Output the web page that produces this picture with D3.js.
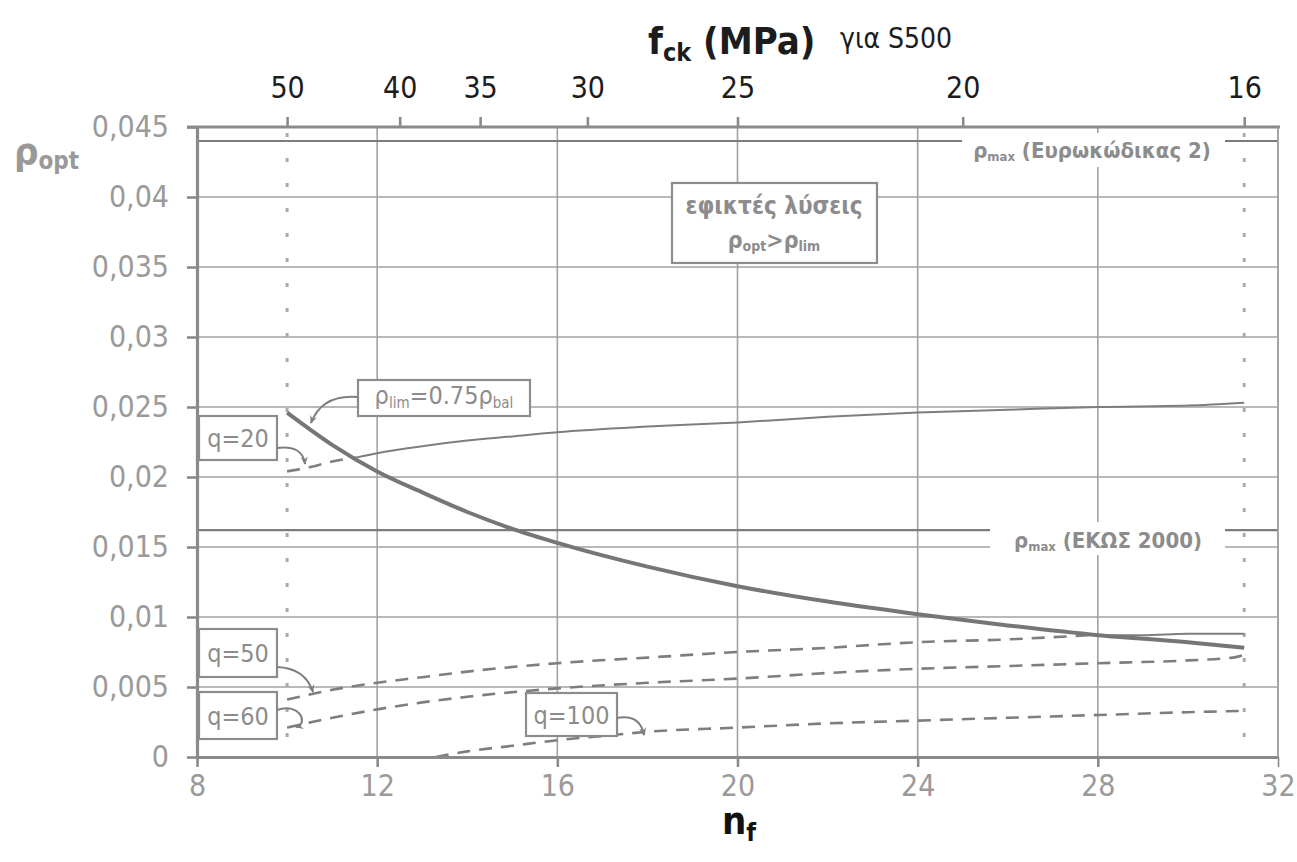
<!DOCTYPE html>
<html>
<head>
<meta charset="utf-8">
<script src="https://cdn.jsdelivr.net/npm/d3@7"></script>
<style>
  body { margin: 0; background: #fff; }
  svg { display: block; }
  text { font-family: "DejaVu Sans Condensed", "DejaVu Sans", Verdana, sans-serif; font-stretch: condensed; }
</style>
</head>
<body>
<svg id="chart" width="1297" height="862"></svg>
<script>
// ---- axes ----
const nfTicks = [8, 12, 16, 20, 24, 28, 32];
const rhoTicks = [0, 0.005, 0.01, 0.015, 0.02, 0.025, 0.03, 0.035, 0.04, 0.045];
const rhoTickLabels = ["0", "0,005", "0,01", "0,015", "0,02", "0,025", "0,03", "0,035", "0,04", "0,045"];
const fckTicks = [50, 40, 35, 30, 25, 20, 16];   // MPa, top axis
const fykS500 = 500;                               // n_f = fyk / fck

// ---- code limits ----
const rhoMaxEC2 = 0.044;
const rhoMaxEKOS = 0.0162;
const nfBounds = [10, 31.25];                      // fck = 50 ... 16 MPa

// ---- rho_lim = 0.75 rho_bal ----
const nfLim  = [10, 11, 12, 13, 14, 15, 16, 18, 20, 22, 24, 26, 28, 30, 31.25];
const rhoLim = [0.0246, 0.0223, 0.0204, 0.0189, 0.0175, 0.0163, 0.0153, 0.0136, 0.0122, 0.0111, 0.0102, 0.0094, 0.0087, 0.0082, 0.0078];

// ---- rho_opt for each q ----
const nfQ20  = [10, 10.5, 11, 11.55, 12, 13, 14, 15, 16, 18, 20, 22, 24, 26, 28, 30, 31.25];
const rhoQ20 = [0.0204, 0.0207, 0.0211, 0.0214, 0.0217, 0.0222, 0.0226, 0.0229, 0.0232, 0.0236, 0.0239, 0.0243, 0.0246, 0.0248, 0.0250, 0.0251, 0.0253];
const q20Feasible = 11.55;

const nfQ50  = [10, 11, 12, 13, 14, 16, 18, 20, 22, 24, 26, 27.8, 29, 30, 31.25];
const rhoQ50 = [0.0041, 0.0048, 0.0053, 0.0057, 0.0061, 0.0067, 0.0071, 0.0075, 0.0078, 0.0082, 0.0084, 0.0087, 0.0087, 0.0088, 0.0088];
const q50Feasible = 27.8;

const nfQ60  = [10, 11, 12, 13, 14, 16, 18, 20, 22, 24, 26, 28, 30, 31, 31.25];
const rhoQ60 = [0.0021, 0.0028, 0.0034, 0.0039, 0.0043, 0.0049, 0.0053, 0.0056, 0.0060, 0.0063, 0.0065, 0.0067, 0.0069, 0.0071, 0.0073];

const nfQ100  = [13.3, 14, 15, 16, 17, 18, 20, 22, 24, 26, 28, 30, 31.25];
const rhoQ100 = [0.0, 0.0004, 0.0008, 0.0012, 0.0015, 0.0018, 0.0021, 0.0024, 0.0026, 0.0028, 0.0030, 0.0032, 0.0033];

// ---------------------------------------------------------------
const svg = d3.select("#chart");
const x = d3.scaleLinear().domain([8, 32]).range([197, 1278]);
const y = d3.scaleLinear().domain([0, 0.045]).range([757, 127]);

const COL = { axis: "#8a8a8a", grid: "#a2a2a2", text: "#9a9a9a", label: "#8c8c8c", dark: "#1c1c1c", curve: "#7e7e7e" };

svg.append("rect").attr("width", 1297).attr("height", 862).attr("fill", "#fff");

svg.append("defs").append("marker")
  .attr("id", "arrow").attr("viewBox", "0 0 10 10").attr("refX", 8).attr("refY", 5)
  .attr("markerWidth", 9).attr("markerHeight", 9).attr("markerUnits", "userSpaceOnUse")
  .attr("orient", "auto")
  .append("path").attr("d", "M0,1 L9,5 L0,9 L3,5 Z").attr("fill", COL.curve);

// grid
const grid = svg.append("g");
grid.selectAll("line.h").data(rhoTicks.filter(v => v > 0 && v < 0.045)).join("line")
  .attr("x1", x(8)).attr("x2", x(32)).attr("y1", d => y(d)).attr("y2", d => y(d))
  .attr("stroke", COL.grid).attr("stroke-width", 1.6);
grid.selectAll("line.v").data(nfTicks.filter(v => v > 8)).join("line")
  .attr("x1", d => x(d)).attr("x2", d => x(d)).attr("y1", y(0.045)).attr("y2", y(0))
  .attr("stroke", COL.grid).attr("stroke-width", 1.6);

// code limits
[rhoMaxEC2, rhoMaxEKOS].forEach(v => {
  svg.append("line").attr("x1", x(8)).attr("x2", x(32)).attr("y1", y(v)).attr("y2", y(v))
    .attr("stroke", "#7c7c7c").attr("stroke-width", 2.2);
});

// bounds of the concrete classes
svg.append("g").selectAll("line").data(nfBounds).join("line")
  .attr("x1", d => x(d)).attr("x2", d => x(d)).attr("y1", y(0.045) + 6).attr("y2", y(0))
  .attr("stroke", "#aaaaaa").attr("stroke-width", 3).attr("stroke-dasharray", "4,21");

// curves
const line = d3.line().x(d => x(d[0])).y(d => y(d[1])).curve(d3.curveMonotoneX);
const zip = (a, b) => a.map((v, i) => [v, b[i]]);
function drawSeries(nf, rho, feasibleFrom) {
  const pts = zip(nf, rho);
  const below = pts.filter(p => p[0] <= feasibleFrom);
  const above = pts.filter(p => p[0] >= feasibleFrom);
  if (below.length > 1)
    svg.append("path").attr("d", line(below)).attr("fill", "none").attr("stroke", COL.curve)
      .attr("stroke-width", 2.6).attr("stroke-dasharray", "13,9");
  if (above.length > 1)
    svg.append("path").attr("d", line(above)).attr("fill", "none").attr("stroke", COL.curve)
      .attr("stroke-width", 2);
}
drawSeries(nfQ20, rhoQ20, q20Feasible);
drawSeries(nfQ50, rhoQ50, q50Feasible);
drawSeries(nfQ60, rhoQ60, Infinity);
drawSeries(nfQ100, rhoQ100, Infinity);

svg.append("path").attr("d", line(zip(nfLim, rhoLim))).attr("fill", "none")
  .attr("stroke", "#767676").attr("stroke-width", 4);

// axes
function styleAxis(g, color) {
  g.select(".domain").attr("stroke", COL.axis).attr("stroke-width", 3.2);
  g.selectAll(".tick line").attr("stroke", COL.axis).attr("stroke-width", 2.6);
  g.selectAll(".tick text").attr("fill", color).attr("font-size", 30)
    .attr("font-family", '"DejaVu Sans Condensed","DejaVu Sans",sans-serif');
}
const gL = svg.append("g").attr("transform", `translate(${x(8)},0)`)
  .call(d3.axisLeft(y).tickValues(rhoTicks).tickFormat((d, i) => rhoTickLabels[i])
    .tickSize(10).tickSizeOuter(0).tickPadding(18));
styleAxis(gL, COL.text);

const gB = svg.append("g").attr("transform", `translate(0,${y(0)})`)
  .call(d3.axisBottom(x).tickValues(nfTicks).tickSize(10).tickSizeOuter(0).tickPadding(8));
styleAxis(gB, COL.text);
gB.selectAll(".tick").filter(d => d === 32).select("line").attr("stroke-width", 1.6);

const gT = svg.append("g").attr("transform", `translate(0,${y(0.045)})`)
  .call(d3.axisTop(x).tickValues(fckTicks.map(f => fykS500 / f)).tickFormat((d, i) => fckTicks[i])
    .tickSize(10).tickSizeOuter(0).tickPadding(19));
styleAxis(gT, COL.dark);
gT.select(".domain").attr("d", `M${x(8) - 10},0H${x(32) + 2}`);

// right frame
svg.append("line").attr("x1", x(32)).attr("x2", x(32)).attr("y1", y(0.045)).attr("y2", y(0))
  .attr("stroke", COL.grid).attr("stroke-width", 1.6);

// ---------------------------------------------------------------
// text helpers
function rich(parent, px, py, parts, opt) {
  const t = parent.append("text").attr("x", px).attr("y", py)
    .attr("text-anchor", opt.anchor || "start")
    .attr("font-weight", opt.weight || "normal")
    .attr("fill", opt.fill || COL.label);
  let cur = 0;
  parts.forEach(p => {
    const off = p.dy || 0;
    t.append("tspan").attr("font-size", p.size).attr("dy", off - cur).text(p.t);
    cur = off;
  });
  return t;
}
function box(parent, x0, y0, x1, y1, stroke) {
  return parent.append("rect").attr("x", x0).attr("y", y0).attr("width", x1 - x0).attr("height", y1 - y0)
    .attr("fill", "#fff").attr("stroke", stroke ? COL.label : "none").attr("stroke-width", 2.2);
}
function arrow(d) {
  svg.append("path").attr("d", d).attr("fill", "none").attr("stroke", COL.curve)
    .attr("stroke-width", 2).attr("marker-end", "url(#arrow)");
}

// titles
rich(svg, 648, 54, [
  { t: "f", size: 38 }, { t: "ck", size: 25, dy: 7 }, { t: " (MPa)", size: 38, dy: 0 }
], { weight: "bold", fill: COL.dark });
rich(svg, 840, 48, [{ t: "για S500", size: 28 }], { fill: COL.dark });

rich(svg, 722, 834, [{ t: "n", size: 38 }, { t: "f", size: 25, dy: 7 }], { weight: "bold", fill: "#111" });

rich(svg, 14, 164, [{ t: "ρ", size: 38 }, { t: "opt", size: 24, dy: 5 }], { weight: "bold", fill: "#999" });

// code-limit labels
const labs = svg.append("g");
box(labs, 962, 133, 1225, 167, false);
rich(labs, 1092, 158, [
  { t: "ρ", size: 22 }, { t: "max", size: 13, dy: 3 }, { t: " (Ευρωκώδικας 2)", size: 22, dy: 0 }
], { anchor: "middle", weight: "bold" });

box(labs, 990, 522, 1225, 555, false);
rich(labs, 1108, 548, [
  { t: "ρ", size: 22 }, { t: "max", size: 13, dy: 3 }, { t: " (ΕΚΩΣ 2000)", size: 22, dy: 0 }
], { anchor: "middle", weight: "bold" });

// feasible region note
box(labs, 672, 183, 877, 263, true);
rich(labs, 774, 214, [{ t: "εφικτές λύσεις", size: 24 }], { anchor: "middle", weight: "bold" });
rich(labs, 774, 248, [
  { t: "ρ", size: 23 }, { t: "opt", size: 14, dy: 3 }, { t: ">", size: 23, dy: 0 },
  { t: "ρ", size: 23 }, { t: "lim", size: 14, dy: 3 }
], { anchor: "middle", weight: "bold" });

// rho_lim label
box(labs, 358, 380, 530, 416, true);
rich(labs, 444, 404, [
  { t: "ρ", size: 25 }, { t: "lim", size: 15, dy: 4 }, { t: "=0.75", size: 25, dy: 0 },
  { t: "ρ", size: 25 }, { t: "bal", size: 15, dy: 4 }
], { anchor: "middle" });
arrow("M358,397 Q322,394 311,423");

// q labels
const qBoxes = [
  { t: "q=20",  b: [199, 416, 277, 460], a: "M277,448 Q303,445 305,464" },
  { t: "q=50",  b: [199, 629, 277, 677], a: "M277,667 Q305,668 313,692" },
  { t: "q=60",  b: [199, 692, 277, 739], a: "M277,710 C300,702 309,724 296,727" },
  { t: "q=100", b: [526, 693, 617, 736], a: "M617,718 Q640,714 644,735" }
];
qBoxes.forEach(q => {
  box(labs, q.b[0], q.b[1], q.b[2], q.b[3], true);
  rich(labs, (q.b[0] + q.b[2]) / 2, (q.b[1] + q.b[3]) / 2 + 9, [{ t: q.t, size: 25 }], { anchor: "middle" });
  arrow(q.a);
});
</script>
</body>
</html>
